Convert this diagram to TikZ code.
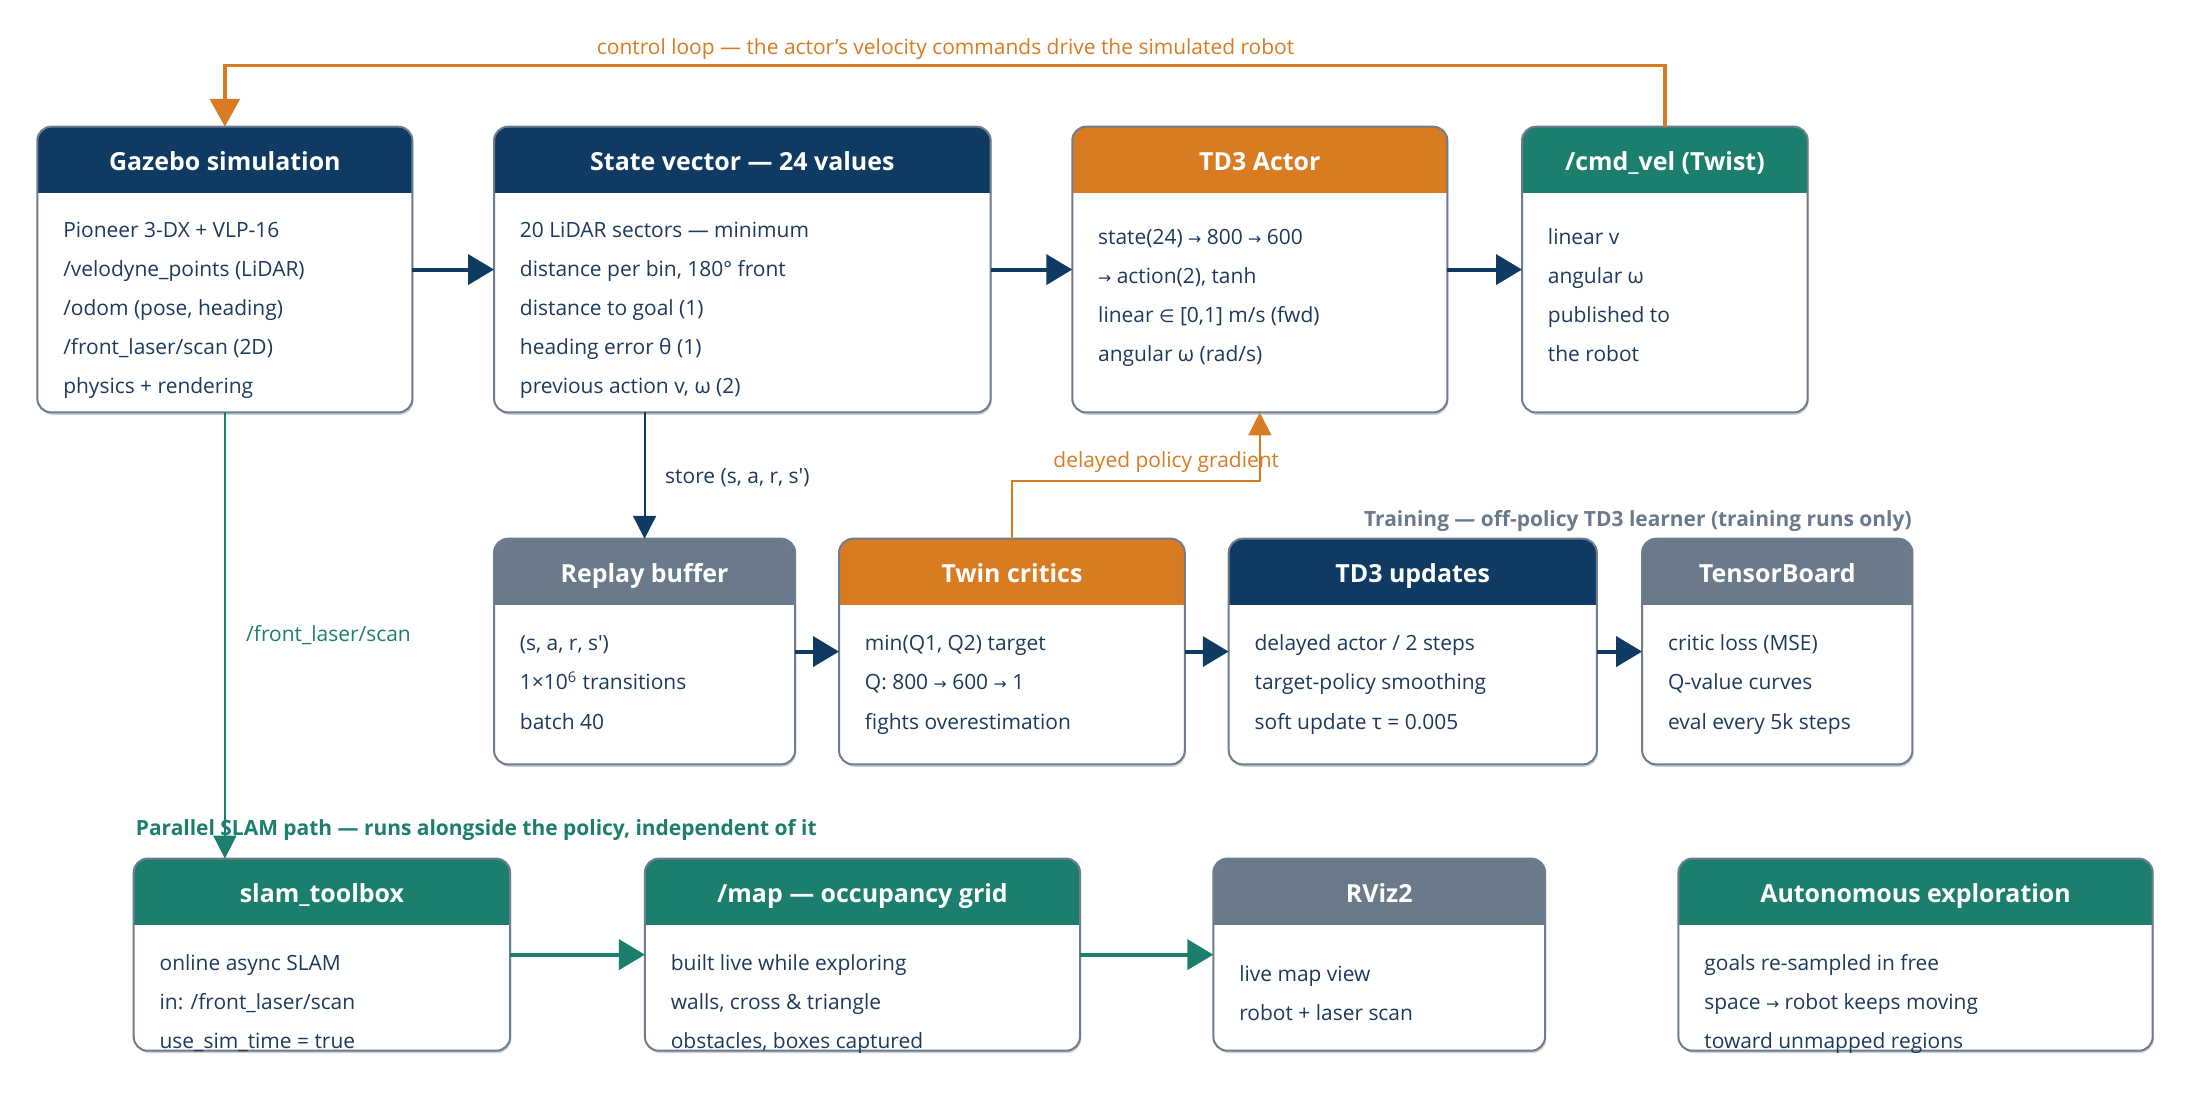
\documentclass[tikz,border=0pt]{standalone}
\usepackage{fontspec}
\setmainfont{Open Sans}
\newfontfamily\symfont{DejaVu Sans}
\usetikzlibrary{arrows.meta}

\newcommand\smallarrow{{\symfont\scalebox{0.75}{→}}}

\tikzset{
  cardbox/.style = {rectangle, rounded corners = 7pt, fill = white, inner sep = 0pt},
  rim/.style = {draw = rimgray, line width = 1pt, rounded corners = 7pt},
  title/.style = {text = white, anchor = base, inner sep = 0pt, font = \fontsize{12.5}{15}\selectfont\bfseries},
  body/.style = {text = bodynavy, anchor = base west, inner sep = 0pt, font = \fontsize{10.5}{13}\selectfont},
  note/.style = {anchor = base, inner sep = 0pt, font = \fontsize{10.5}{13}\selectfont},
  flow/.style = {line width = 2pt, -{Triangle[length = 13pt, width = 15pt]}},
  thinflow/.style = {line width = 1pt, -{Triangle[length = 11.5pt, width = 11.5pt]}}
}

% name, x1, y1, x2, y2, header colour, title, first line y, lines
\newcommand\card[9]{%
  \fill[rimgray!35, rounded corners = 7pt] (#2+1,#3+2) rectangle (#4+1,#5+2);
  \node[cardbox, minimum width = {(#4-#2)*0.7pt}, minimum height = {(#5-#3)*0.7pt}] (#1) at ({(#2+#4)/2},{(#3+#5)/2}) {};
  \begin{scope}
    \clip[rounded corners = 7pt] (#2,#3) rectangle (#4,#5);
    \fill[#6] (#2,#3) rectangle (#4,#3+47);
  \end{scope}
  \draw[rim] (#1.south west) rectangle (#1.north east);
  \node[title] (#1-t) at ({(#2+#4)/2},#3+31) {#7};
  \foreach \l [count = \i] in {#9} \node[body] (#1-\i) at (#2+18,{#8+5+28*(\i-1)}) {\l};
}

\begin{document}
\begin{tikzpicture}[x = 0.7pt, y = -0.7pt]
\definecolor{hdnavy}{HTML}{0F3B63}
\definecolor{hdorange}{HTML}{D97B21}
\definecolor{hdgreen}{HTML}{1C7F6E}
\definecolor{hdgray}{HTML}{6B7A8A}
\definecolor{rimgray}{HTML}{6E7C8C}
\definecolor{bodynavy}{HTML}{1B3A5C}
\useasboundingbox[fill = white] (0,0) rectangle (1568,784);

% top row
\card{gaz}{27}{91}{295}{295}{hdnavy}{Gazebo simulation}{165}{{Pioneer 3-DX + VLP-16},{/velodyne\_points (LiDAR)},{/odom (pose, heading)},{/front\_laser/scan (2D)},{physics + rendering}}
\card{state}{354}{91}{709}{295}{hdnavy}{State vector — 24 values}{165}{{20 LiDAR sectors — minimum},{distance per bin, 180° front},{distance to goal (1)},{heading error θ (1)},{previous action v, ω (2)}}
\card{actor}{768}{91}{1036}{295}{hdorange}{TD3 Actor}{170}{{state(24) \smallarrow{} 800 \smallarrow{} 600},{\smallarrow{} action(2), tanh},{linear {\symfont\scalebox{0.85}{∈}} [0,1] m/s (fwd)},{angular ω (rad/s)}}
\card{cmd}{1090}{91}{1294}{295}{hdgreen}{/cmd\_vel (Twist)}{170}{{linear v},{angular ω},{published to},{the robot}}

% training row
\card{replay}{354}{386}{569}{547}{hdgray}{Replay buffer}{461}{{(s, a, r, s′)},{1×10\textsuperscript{6} transitions},{batch 40}}
\card{twin}{601}{386}{848}{547}{hdorange}{Twin critics}{461}{{min(Q1, Q2) target},{Q: 800 \smallarrow{} 600 \smallarrow{} 1},{fights overestimation}}
\card{upd}{880}{386}{1143}{547}{hdnavy}{TD3 updates}{461}{{delayed actor / 2 steps},{target-policy smoothing},{soft update τ = 0.005}}
\card{tb}{1176}{386}{1369}{547}{hdgray}{TensorBoard}{461}{{critic loss (MSE)},{Q-value curves},{eval every 5k steps}}

% slam row
\card{slam}{96}{615}{365}{752}{hdgreen}{slam\_toolbox}{690}{{online async SLAM},{in: /front\_laser/scan},{use\_sim\_time = true}}
\card{map}{462}{615}{773}{752}{hdgreen}{/map — occupancy grid}{690}{{built live while exploring},{walls, cross \& triangle},{obstacles, boxes captured}}
\card{rviz}{869}{615}{1106}{752}{hdgray}{RViz2}{698}{{live map view},{robot + laser scan}}
\card{auto}{1202}{615}{1541}{752}{hdgreen}{Autonomous exploration}{690}{{goals re-sampled in free},{space \smallarrow{} robot keeps moving},{toward unmapped regions}}

\draw[flow, hdnavy] (gaz.east) -- (state.west);
\draw[flow, hdnavy] (state.east) -- (actor.west);
\draw[flow, hdnavy] (actor.east) -- (cmd.west);
\draw[flow, hdnavy] (replay.east) -- (twin.west);
\draw[flow, hdnavy] (twin.east) -- (upd.west);
\draw[flow, hdnavy] (upd.east) -- (tb.west);
\draw[flow, hdgreen] (slam.east) -- (map.west);
\draw[flow, hdgreen] (map.east) -- (rviz.west);

\draw[hdorange, line width = 1.7pt, -{Triangle[length = 14pt, width = 15pt]}] (cmd.north) -- ++(0,-44) -| (gaz.north);
\node[note, text = hdorange] (looplbl) at (677,39) {control loop — the actor’s velocity commands drive the simulated robot};

\draw[thinflow, hdnavy] (state.south -| replay.north) -- (replay.north);
\node[note, text = bodynavy, anchor = base west] (storelbl) at (476,346) {store (s, a, r, s′)};

\draw[thinflow, hdorange] (twin.north) -- ++(0,-41) -| (actor.south);
\node[note, text = hdorange] (gradlbl) at (835,335) {delayed policy gradient};

\node[note, text = hdgray, anchor = base east, font = \fontsize{10.5}{13}\selectfont\bfseries] (trainlbl) at (1369,377) {Training — off-policy TD3 learner (training runs only)};

\draw[thinflow, hdgreen] (gaz.south) -- (gaz.south |- slam.north);
\node[note, text = hdgreen, anchor = base west] (scanlbl) at (176,459) {/front\_laser/scan};
\node[note, text = hdgreen, anchor = base west, font = \fontsize{10.5}{13}\selectfont\bfseries] (slamlbl) at (97,598) {Parallel SLAM path — runs alongside the policy, independent of it};
\end{tikzpicture}
\end{document}
